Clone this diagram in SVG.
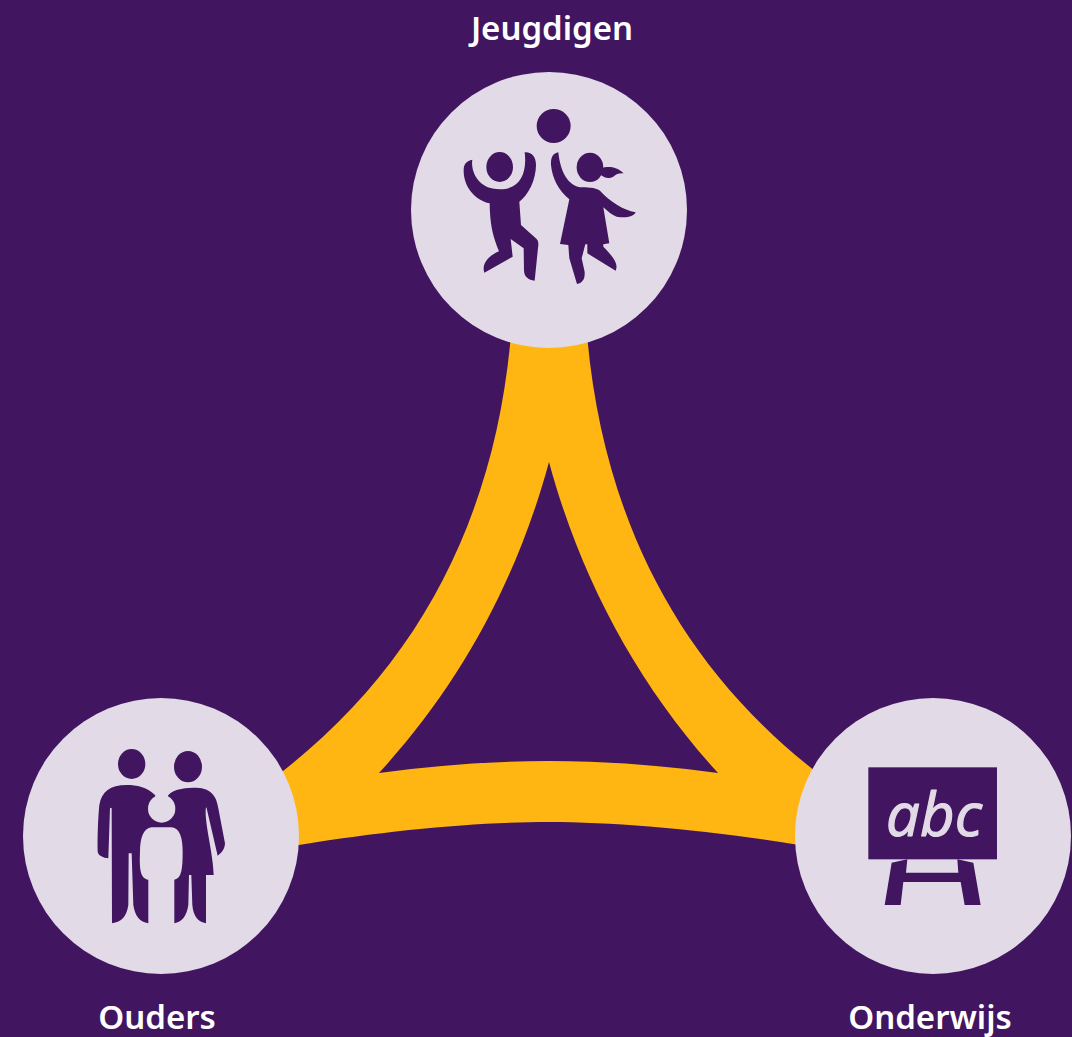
<svg xmlns="http://www.w3.org/2000/svg" width="1072" height="1037" viewBox="0 0 1072 1037">
<style>
.bg{fill:#41155f}
.disc{fill:#e2dbe7}
.ink{fill:#41155f}
.light{fill:#e2dbe7}
.link{fill:#ffb612;fill-rule:evenodd}
.label{font-family:"Noto Sans","Open Sans",sans-serif;font-weight:600;font-size:33px;fill:#fff;text-anchor:middle}
.abc{font-family:"Open Sans",sans-serif;font-style:italic;font-size:60px;fill:#e2dbe7;stroke:#e2dbe7;stroke-width:1.2;stroke-linejoin:round;text-anchor:middle}
</style>
<rect class="bg" width="1072" height="1037"/>
<g id="connectors">
<path class="link" d="M510.5,340 C494,515 422,662 283,771 L161,836 L299,845 C390,830 480,822 549,822 C618,822 708,830 799,845 L933,836 L815,771 C676,662 604,515 587.500,340 Z M549,462 C517,580 460,685 379,773 C440,765 495,761 549,761 C603,761 658,765 718,773 C638,685 581,580 549,462 Z"/>
</g>
<g id="jeugdigen">
<circle class="disc" cx="549" cy="210" r="138"/>
<g transform="translate(440,90) scale(0.3333)">
<circle class="ink" cx="341" cy="108" r="51"/>
<ellipse class="ink" cx="179" cy="231" rx="40" ry="45"/>
<path class="ink" d="M97,209 C92,240 110,298 180,298 C240,298 262,250 254,187 C275,185 288,200 288,225 C288,270 265,315 238,335 L243,405 L290,447 Q296,452 295,465 L284,572 C265,570 252,560 252,540 L251,475 L212,447 L218,500 L133,548 C125,525 140,500 177,484 C160,440 150,410 149,340 C105,330 70,290 71,240 C71,222 80,212 97,209 Z"/>
<ellipse class="ink" cx="450" cy="232" rx="40" ry="44"/>
<path class="ink" d="M485,235 C500,228 530,228 551,250 C535,250 530,252 520,260 C505,268 490,262 483,255 Z"/>
<path class="ink" d="M355,187 C340,190 332,200 333,225 C337,265 355,300 388,328 L360,462 L385,465 L388,505 L411,582 C430,578 435,565 434,545 L425,505 L436,463 L442,463 L442,490 L527,542 C535,525 525,505 490,470 L490,463 L508,460 L490,352 C505,365 515,375 530,380 C560,385 580,380 587,367 C550,360 510,335 480,302 C465,292 440,292 420,292 C385,285 362,250 355,187 Z"/>
</g>
</g>
<g id="ouders">
<circle class="disc" cx="161" cy="836" r="138"/>
<g transform="translate(80,735) scale(0.3333)">
<ellipse class="ink" cx="155" cy="87" rx="41" ry="45"/>
<ellipse class="ink" cx="324" cy="95" rx="42" ry="47"/>
<path class="ink" d="M225,180 C200,155 170,150 140,150 C90,150 65,170 58,210 C54,250 52,310 53,350 C55,362 70,368 85,370 L90,220 Q92,216 95,220 L96,565 C125,560 140,545 145,510 L146,355 L155,355 L160,510 C165,545 180,560 205,565 L205,420 L260,420 L260,270 Z"/>
<path class="ink" d="M265,180 C285,160 320,158 350,158 C395,160 410,185 415,220 L435,325 C435,340 425,355 413,362 L380,220 Q378,212 377,225 C375,270 400,360 401,420 L378,420 L378,565 C355,560 340,545 337,510 L334,420 L327,420 L325,510 C320,545 305,560 283,565 L283,420 L240,420 L240,270 Z"/>
<ellipse class="light" cx="245" cy="221" rx="41" ry="42"/>
<path class="light" d="M215,277 C190,280 180,310 180,350 C178,400 180,430 205,434 L283,434 C305,430 308,400 308,350 C308,310 300,280 275,277 Z"/>
</g>
</g>
<g id="onderwijs">
<circle class="disc" cx="933" cy="836" r="138"/>
<g transform="translate(850,755) scale(0.3333)">
<rect class="ink" x="55" y="37" width="386" height="276"/>
<path class="ink" d="M125,323 L172,313 L168,353 L325,353 L322,313 L370,323 L392,450 L344,450 L332,381 L160,381 L152,450 L104,450 Z"/>
</g>
<text class="abc" x="934" y="836">abc</text>
</g>
<text class="label" x="552" y="40">Jeugdigen</text>
<text class="label" x="157" y="1029">Ouders</text>
<text class="label" x="930" y="1029">Onderwijs</text>
</svg>
